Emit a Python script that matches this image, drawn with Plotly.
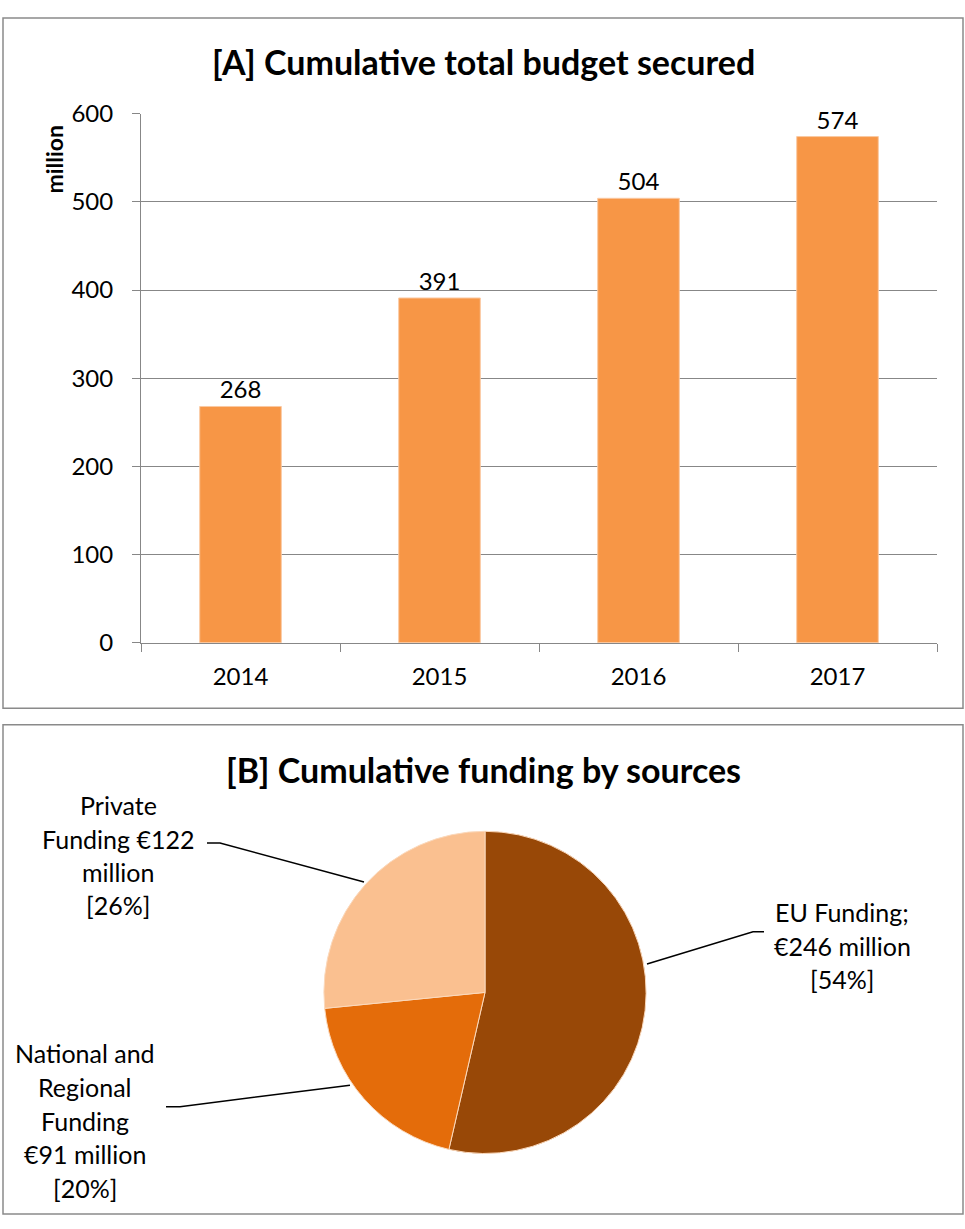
import plotly.graph_objects as go

# ---------------- data ----------------
years = ["2014", "2015", "2016", "2017"]
budget = [268, 391, 504, 574]

sources = ["EU Funding", "National and Regional Funding", "Private Funding"]
funding = [246, 91, 122]
funding_pct = [54, 20, 26]
source_label_lines = [
    ["EU Funding;", "€{v} million", "[{p}%]"],
    ["National and", "Regional", "Funding", "€{v} million", "[{p}%]"],
    ["Private", "Funding €{v}", "million", "[{p}%]"],
]

# ---------------- geometry helpers ----------------
W, H = 965, 1229


def px(x):
    return x / W


def py(y):
    return 1 - y / H


FONT = "Lato, 'Open Sans', sans-serif"
GRID = "#878787"
slice_colors = ["#984807", "#E46C0A", "#FAC090"]

fig = go.Figure()

fig.add_trace(go.Bar(
    x=years, y=budget,
    marker=dict(color="#F79646", line=dict(color="#FAC9A2", width=1)),
    text=[str(v) for v in budget], textposition="outside",
    textfont=dict(size=24, color="black", family=FONT),
    cliponaxis=False, showlegend=False,
))

fig.add_trace(go.Pie(
    labels=sources, values=funding, sort=False, direction="clockwise",
    rotation=0, textinfo="none", showlegend=False,
    marker=dict(colors=slice_colors, line=dict(color="#FBD9BC", width=1)),
    domain=dict(x=[px(320), px(650)], y=[py(1165), py(835)]),
))

fig.update_layout(
    width=W, height=H, margin=dict(l=0, r=0, t=0, b=0),
    paper_bgcolor="white", plot_bgcolor="white",
    font=dict(family=FONT, color="black", size=24),
    bargap=0.59,
    xaxis=dict(
        domain=[px(141), px(937)], anchor="y",
        type="category", range=[-0.5, 3.5],
        showline=True, linecolor=GRID, linewidth=1,
        ticks="outside", tickson="boundaries", ticklen=8, tickcolor=GRID,
        tickfont=dict(size=24), ticklabelstandoff=12,
        showgrid=False, zeroline=False, fixedrange=True,
    ),
    yaxis=dict(
        domain=[py(642), py(100)], anchor="x",
        range=[0, 600], dtick=100,
        showline=True, linecolor=GRID, linewidth=1,
        ticks="outside", ticklen=8, tickcolor=GRID,
        tickfont=dict(size=24), ticklabelstandoff=14,
        showgrid=True, gridcolor=GRID, gridwidth=1,
        zeroline=False, fixedrange=True,
    ),
)

# panel borders
for y0, y1 in [(2, 709), (726, 1227)]:
    fig.add_shape(type="rect", xref="paper", yref="paper",
                  x0=px(3), x1=px(963), y0=py(y1), y1=py(y0),
                  line=dict(color="#8A8A8A", width=1.5), layer="below")

ann = []
# titles
ann.append(dict(text="<b>[A] Cumulative total budget secured</b>", x=px(484), y=py(47),
                font=dict(size=34)))
ann.append(dict(text="<b>[B] Cumulative funding by sources</b>", x=px(484), y=py(772),
                font=dict(size=34)))
ann.append(dict(text="<b>million</b>", x=px(54), y=py(147), textangle=-90,
                font=dict(size=23)))

# pie labels
label_pos = [
    (842, [918, 952, 986]),
    (85, [1062, 1097, 1132, 1166, 1200]),
    (118, [808, 843, 877, 910]),
]
for lines, v, p, (cx, ys) in zip(source_label_lines, funding, funding_pct, label_pos):
    for line, yy in zip(lines, ys):
        ann.append(dict(text=line.format(v=v, p=p), x=px(cx), y=py(yy), font=dict(size=25)))

for a in ann:
    a.update(xref="paper", yref="paper", showarrow=False,
             xanchor="center", yanchor="middle")
    fig.add_annotation(**a)

# leader lines
leaders = [
    [(764, 938), (753, 938), (647, 971)],
    [(166, 1117), (180, 1117), (350, 1095)],
    [(207, 847), (220, 847), (364, 887)],
]
for pts in leaders:
    path = "M " + " L ".join(f"{px(x):.5f},{py(y):.5f}" for x, y in pts)
    fig.add_shape(type="path", xref="paper", yref="paper", path=path,
                  line=dict(color="black", width=1.5))

fig.write_html(
    "out.html",
    config={"displayModeBar": False},
    post_script="document.body.style.margin='0';document.body.style.overflow='hidden';",
)
